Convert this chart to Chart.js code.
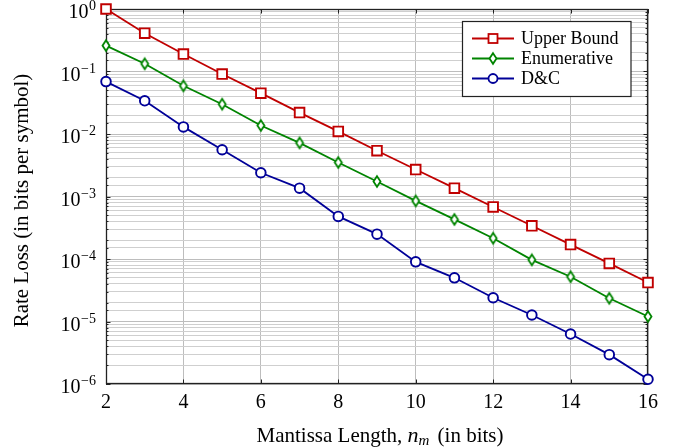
<!DOCTYPE html>
<html>
<head>
<meta charset="utf-8">
<script src="https://cdn.jsdelivr.net/npm/chart.js@4/dist/chart.umd.min.js"></script>
<style>
  html, body { margin: 0; padding: 0; background: #fff; }
  #wrap { width: 684px; height: 448px; }
</style>
</head>
<body>
<div id="wrap"><canvas id="grafico" width="684" height="448"></canvas></div>
<script>
const longitudes = [2, 3, 4, 5, 6, 7, 8, 9, 10, 11, 12, 13, 14, 15, 16];
const cotaSuperior = [1.0, 0.41, 0.19, 0.091, 0.045, 0.022, 0.011, 0.0054, 0.0027, 0.00136, 6.8e-4, 3.4e-4, 1.7e-4, 8.5e-5, 4.2e-5];
const enumerativo = [0.26, 0.133, 0.059, 0.030, 0.0137, 0.0072, 0.0035, 0.00174, 8.5e-4, 4.3e-4, 2.15e-4, 9.7e-5, 5.2e-5, 2.35e-5, 1.2e-5];
const divideVence = [0.069, 0.034, 0.013, 0.0056, 0.0024, 0.00136, 4.8e-4, 2.5e-4, 9.0e-5, 5.0e-5, 2.4e-5, 1.27e-5, 6.3e-6, 2.95e-6, 1.19e-6];
const nombres = ["Upper Bound", "Enumerative", "D&C"];
const ticksX = [2, 4, 6, 8, 10, 12, 14, 16];
const exponentesY = [0, -1, -2, -3, -4, -5, -6];

const ROJO = "#c00000";
const VERDE = "#008400";
const AZUL = "#000098";
const FUENTE = "'Liberation Serif', 'Times New Roman', serif";

// rombo angosto como el de pgfplots
function crearRombo(color) {
    const c = document.createElement("canvas");
    c.width = 12; c.height = 15;
    const g = c.getContext("2d");
    g.beginPath();
    g.moveTo(6, 2.2);
    g.lineTo(9.5, 7.5);
    g.lineTo(6, 12.8);
    g.lineTo(2.5, 7.5);
    g.closePath();
    g.fillStyle = "#fff";
    g.fill();
    g.lineWidth = 1.8;
    g.strokeStyle = color;
    g.stroke();
    return c;
}
const rombo = crearRombo(VERDE);

function puntos(valores) {
    return longitudes.map((x, i) => ({ x: x, y: valores[i] }));
}

function esDecada(v) {
    const l = Math.log10(v);
    return Math.abs(l - Math.round(l)) < 1e-6;
}

const dibujarMarco = {
    id: "marco",
    beforeDatasetsDraw(chart) {
        const { ctx, chartArea: a, scales } = chart;
        ctx.save();
        ctx.strokeStyle = "#222";
        ctx.lineWidth = 1;
        // marcas hacia adentro
        ctx.beginPath();
        scales.y.ticks.forEach(t => {
            const y = Math.round(scales.y.getPixelForValue(t.value)) + 0.5;
            const len = esDecada(t.value) ? 4.5 : 2.5;
            ctx.moveTo(a.left, y); ctx.lineTo(a.left + len, y);
            ctx.moveTo(a.right, y); ctx.lineTo(a.right - len, y);
        });
        ticksX.forEach(v => {
            const x = Math.round(scales.x.getPixelForValue(v)) + 0.5;
            ctx.moveTo(x, a.bottom); ctx.lineTo(x, a.bottom - 4.5);
            ctx.moveTo(x, a.top); ctx.lineTo(x, a.top + 4.5);
        });
        ctx.stroke();
        ctx.lineWidth = 1.3;
        ctx.strokeRect(a.left + 0.5, a.top + 0.5, a.right - a.left - 1, a.bottom - a.top - 1);
        ctx.restore();
    }
};

const dibujarTextos = {
    id: "textos",
    afterDraw(chart) {
        const { ctx, chartArea: a, scales } = chart;
        ctx.save();
        ctx.fillStyle = "#000";
        // etiquetas eje y: 10^k
        exponentesY.forEach(k => {
            const y = scales.y.getPixelForValue(Math.pow(10, k));
            const exp = k === 0 ? "0" : "\u2212" + Math.abs(k);
            ctx.font = "14px " + FUENTE;
            const wExp = ctx.measureText(exp).width;
            ctx.textAlign = "left";
            ctx.textBaseline = "alphabetic";
            const xFin = 96;
            ctx.fillText(exp, xFin - wExp, y + 1);
            ctx.font = "20px " + FUENTE;
            ctx.textAlign = "right";
            ctx.fillText("10", xFin - wExp - 0.5, y + 9);
        });
        // etiquetas eje x
        ctx.font = "20px " + FUENTE;
        ctx.textAlign = "center";
        ticksX.forEach(v => {
            ctx.fillText(String(v), scales.x.getPixelForValue(v), 408);
        });
        // titulo eje x con n_m en cursiva
        const partes = [
            { t: "Mantissa Length, ", f: "21px " + FUENTE, dy: 0 },
            { t: "n", f: "italic 22px " + FUENTE, dy: 0 },
            { t: "m", f: "italic 15px " + FUENTE, dy: 3 },
            { t: " (in bits)", f: "21px " + FUENTE, dy: 0 }
        ];
        let total = 0;
        partes.forEach(p => { ctx.font = p.f; p.w = ctx.measureText(p.t).width; total += p.w; });
        total += 3;
        let x = (a.left + a.right) / 2 + 3 - total / 2;
        ctx.textAlign = "left";
        partes.forEach((p, i) => {
            ctx.font = p.f;
            ctx.fillText(p.t, x, 442 + p.dy);
            x += p.w + (i === 2 ? 3 : 0);
        });
        // titulo eje y
        ctx.translate(28, (a.top + a.bottom) / 2 + 4);
        ctx.rotate(-Math.PI / 2);
        ctx.font = "21px " + FUENTE;
        ctx.textAlign = "center";
        ctx.fillText("Rate Loss (in bits per symbol)", 0, 0);
        ctx.restore();

        // leyenda
        ctx.save();
        ctx.fillStyle = "#fff";
        ctx.fillRect(462.5, 21.5, 168.5, 75);
        ctx.strokeStyle = "#222";
        ctx.lineWidth = 1.2;
        ctx.strokeRect(462.5, 21.5, 168.5, 75);
        const colores = [ROJO, VERDE, AZUL];
        nombres.forEach((n, i) => {
            const y = 38.5 + i * 20;
            ctx.strokeStyle = colores[i];
            ctx.lineWidth = 1.8;
            ctx.beginPath();
            ctx.moveTo(472, y); ctx.lineTo(514, y);
            ctx.stroke();
            ctx.fillStyle = "#fff";
            if (i === 0) {
                ctx.fillRect(488.5, y - 4.5, 9, 9);
                ctx.strokeRect(488.5, y - 4.5, 9, 9);
            } else if (i === 1) {
                ctx.drawImage(rombo, 493 - 6, y - 7.5);
            } else {
                ctx.beginPath();
                ctx.arc(493, y, 4.5, 0, Math.PI * 2);
                ctx.fill();
                ctx.stroke();
            }
            ctx.fillStyle = "#000";
            ctx.font = "18px " + FUENTE;
            ctx.textAlign = "left";
            ctx.textBaseline = "middle";
            ctx.fillText(n, 521, y + 1);
        });
        ctx.restore();
    }
};

new Chart(document.getElementById("grafico").getContext("2d"), {
    type: "line",
    data: {
        datasets: [
            {
                label: nombres[0],
                data: puntos(cotaSuperior),
                borderColor: ROJO,
                backgroundColor: "#fff",
                borderWidth: 1.8,
                pointStyle: "rect",
                pointRadius: 6.8,
                pointBorderWidth: 1.9,
                pointBackgroundColor: "#fff",
                pointBorderColor: ROJO,
                clip: false
            },
            {
                label: nombres[1],
                data: puntos(enumerativo),
                borderColor: VERDE,
                backgroundColor: "#fff",
                borderWidth: 1.8,
                pointStyle: rombo,
                pointRadius: 6,
                clip: false
            },
            {
                label: nombres[2],
                data: puntos(divideVence),
                borderColor: AZUL,
                backgroundColor: "#fff",
                borderWidth: 1.8,
                pointStyle: "circle",
                pointRadius: 4.8,
                pointBorderWidth: 1.9,
                pointBackgroundColor: "#fff",
                pointBorderColor: AZUL,
                clip: false
            }
        ]
    },
    options: {
        responsive: false,
        animation: false,
        layout: { padding: { top: 9, right: 36, left: 0, bottom: 0 } },
        plugins: { legend: { display: false }, tooltip: { enabled: false } },
        scales: {
            x: {
                type: "linear",
                min: 2,
                max: 16,
                afterFit: s => { s.height = 64; },
                afterBuildTicks: s => { s.ticks = ticksX.map(v => ({ value: v })); },
                ticks: { display: false },
                border: { display: false },
                grid: { color: "#bdbdbd", lineWidth: 1, drawTicks: false }
            },
            y: {
                type: "logarithmic",
                min: 1e-6,
                max: 1,
                afterFit: s => { s.width = 106; },
                ticks: { display: false, autoSkip: false },
                border: { display: false },
                grid: {
                    drawTicks: false,
                    lineWidth: 1,
                    color: c => (c.tick && esDecada(c.tick.value)) ? "#bdbdbd" : "#cfcfcf"
                }
            }
        }
    },
    plugins: [dibujarMarco, dibujarTextos]
});
</script>
</body>
</html>
